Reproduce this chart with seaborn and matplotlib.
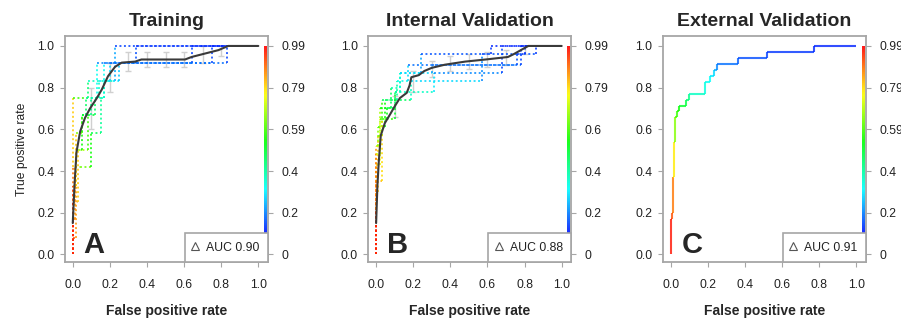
import numpy as np
import matplotlib
matplotlib.use("Agg")
import matplotlib.pyplot as plt
from matplotlib.collections import LineCollection
from matplotlib.colors import ListedColormap
from matplotlib.lines import Line2D
import seaborn as sns

# ---- chart data ----
titles = ["Training", "Internal Validation", "External Validation"]
panel_letters = ["A", "B", "C"]
auc_labels = ["AUC 0.90", "AUC 0.88", "AUC 0.91"]
axis_ticks = [0.0, 0.2, 0.4, 0.6, 0.8, 1.0]
cutoff_labels = [
    ["0", "0.2", "0.4", "0.59", "0.79", "0.99"],
    ["0", "0.2", "0.4", "0.6", "0.79", "0.99"],
    ["0", "0.2", "0.4", "0.59", "0.79", "0.99"],
]

# averaged ROC curves (black line)
train_mean_fpr = [0.0, 0.01, 0.02, 0.04, 0.066, 0.093, 0.13, 0.156, 0.19, 0.228, 0.264, 0.336, 0.37, 0.605, 0.64, 0.71, 0.785, 0.838, 1.0]
train_mean_tpr = [0.15, 0.34, 0.49, 0.59, 0.655, 0.70, 0.75, 0.79, 0.855, 0.90, 0.92, 0.925, 0.935, 0.935, 0.947, 0.963, 0.98, 1.0, 1.0]
int_mean_fpr = [0.0, 0.007, 0.014, 0.025, 0.047, 0.074, 0.10, 0.128, 0.165, 0.18, 0.19, 0.23, 0.26, 0.30, 0.37, 0.48, 0.59, 0.71, 0.74, 0.78, 0.82, 1.0]
int_mean_tpr = [0.15, 0.33, 0.44, 0.57, 0.63, 0.67, 0.71, 0.75, 0.775, 0.81, 0.85, 0.86, 0.88, 0.895, 0.91, 0.925, 0.935, 0.947, 0.96, 0.98, 1.0, 1.0]

# training folds: fpr, tpr, cutoff at each vertex
train_fold1_fpr = [0, 0, 0, 0, 0.08, 0.08, 0.23, 0.23, 1]
train_fold1_tpr = [0, 0.17, 0.42, 0.75, 0.75, 0.83, 0.83, 1, 1]
train_fold1_cut = [0.97, 0.88, 0.8, 0.55, 0.38, 0.3, 0.15, 0.05, 0.0]
train_fold2_fpr = [0, 0, 0.02, 0.02, 0.02, 0.05, 0.05, 0.1, 0.1, 0.13, 0.13, 0.34, 0.34, 1]
train_fold2_tpr = [0, 0.08, 0.08, 0.33, 0.5, 0.5, 0.67, 0.67, 0.75, 0.75, 0.92, 0.92, 1, 1]
train_fold2_cut = [0.97, 0.92, 0.85, 0.75, 0.6, 0.5, 0.42, 0.36, 0.3, 0.25, 0.12, 0.06, 0.03, 0.0]
train_fold3_fpr = [0, 0, 0.01, 0.01, 0.04, 0.1, 0.1, 0.15, 0.15, 0.17, 0.17, 0.64, 0.64, 1]
train_fold3_tpr = [0, 0.17, 0.17, 0.42, 0.42, 0.42, 0.58, 0.58, 0.75, 0.75, 0.92, 0.92, 1, 1]
train_fold3_cut = [0.97, 0.9, 0.85, 0.62, 0.6, 0.5, 0.42, 0.35, 0.3, 0.25, 0.1, 0.05, 0.02, 0.0]
train_fold4_fpr = [0, 0, 0.02, 0.02, 0.05, 0.05, 0.07, 0.07, 0.14, 0.14, 0.2, 0.2, 0.75, 0.75, 1]
train_fold4_tpr = [0, 0.33, 0.33, 0.58, 0.58, 0.67, 0.67, 0.75, 0.75, 0.83, 0.83, 0.92, 0.92, 1, 1]
train_fold4_cut = [0.95, 0.85, 0.8, 0.62, 0.55, 0.45, 0.4, 0.33, 0.3, 0.22, 0.2, 0.1, 0.05, 0.02, 0.0]
train_fold5_fpr = [0, 0, 0.03, 0.03, 0.08, 0.08, 0.12, 0.12, 0.17, 0.17, 0.25, 0.25, 0.83, 0.83, 1]
train_fold5_tpr = [0, 0.25, 0.25, 0.5, 0.5, 0.67, 0.67, 0.75, 0.75, 0.83, 0.83, 0.92, 0.92, 1, 1]
train_fold5_cut = [0.96, 0.86, 0.8, 0.65, 0.55, 0.45, 0.4, 0.33, 0.3, 0.22, 0.18, 0.1, 0.05, 0.02, 0.0]

# internal validation folds
int_fold1_fpr = [0, 0, 0, 0.01, 0.01, 0.03, 0.03, 0.19, 0.19, 0.57, 0.57, 0.62, 0.62, 1]
int_fold1_tpr = [0, 0.13, 0.3, 0.3, 0.57, 0.57, 0.74, 0.74, 0.83, 0.83, 0.96, 0.96, 1, 1]
int_fold1_cut = [0.97, 0.9, 0.85, 0.8, 0.62, 0.55, 0.4, 0.3, 0.2, 0.12, 0.05, 0.04, 0.02, 0.0]
int_fold2_fpr = [0, 0, 0, 0.02, 0.02, 0.06, 0.06, 0.1, 0.1, 0.31, 0.31, 0.68, 0.68, 1]
int_fold2_tpr = [0, 0.2, 0.43, 0.43, 0.65, 0.65, 0.7, 0.7, 0.78, 0.78, 0.87, 0.87, 1, 1]
int_fold2_cut = [0.96, 0.87, 0.78, 0.72, 0.55, 0.48, 0.42, 0.38, 0.3, 0.22, 0.12, 0.05, 0.02, 0.0]
int_fold3_fpr = [0, 0, 0, 0.01, 0.01, 0.05, 0.05, 0.11, 0.11, 0.17, 0.17, 0.78, 0.78, 1]
int_fold3_tpr = [0, 0.26, 0.52, 0.52, 0.61, 0.61, 0.74, 0.74, 0.83, 0.83, 0.91, 0.91, 1, 1]
int_fold3_cut = [0.95, 0.85, 0.68, 0.62, 0.55, 0.5, 0.4, 0.33, 0.25, 0.2, 0.1, 0.05, 0.02, 0.0]
int_fold4_fpr = [0, 0, 0, 0.03, 0.03, 0.1, 0.1, 0.13, 0.13, 0.24, 0.24, 0.86, 0.86, 1]
int_fold4_tpr = [0, 0.17, 0.35, 0.35, 0.65, 0.65, 0.78, 0.78, 0.87, 0.87, 0.96, 0.96, 1, 1]
int_fold4_cut = [0.97, 0.9, 0.82, 0.78, 0.55, 0.45, 0.35, 0.3, 0.22, 0.15, 0.07, 0.04, 0.02, 0.0]
int_fold5_fpr = [0, 0, 0, 0.02, 0.02, 0.08, 0.08, 0.13, 0.13, 0.3, 0.3, 0.76, 0.76, 0.8, 0.8, 1]
int_fold5_tpr = [0, 0.22, 0.48, 0.48, 0.7, 0.7, 0.8, 0.8, 0.87, 0.87, 0.91, 0.91, 0.96, 0.96, 1, 1]
int_fold5_cut = [0.96, 0.86, 0.7, 0.65, 0.48, 0.4, 0.32, 0.28, 0.2, 0.15, 0.1, 0.06, 0.04, 0.03, 0.02, 0.0]

# error bars on the averaged curves
err_fpr = [0.1, 0.2, 0.3, 0.4, 0.5, 0.6, 0.7, 0.8]
train_err_lo = [0.60, 0.78, 0.88, 0.90, 0.90, 0.90, 0.92, 0.95]
train_err_hi = [0.80, 0.92, 0.97, 0.97, 0.97, 0.97, 1.00, 1.00]
int_err_lo = [0.66, 0.78, 0.85, 0.88, 0.89, 0.90, 0.91, 0.96]
int_err_hi = [0.76, 0.88, 0.93, 0.95, 0.96, 0.97, 0.98, 1.00]

# external validation: single ROC curve
ext_fpr = [0, 0, 0.007, 0.007, 0.014, 0.014, 0.018, 0.018, 0.025, 0.025, 0.036, 0.036, 0.047, 0.047,
           0.08, 0.08, 0.1, 0.1, 0.185, 0.185, 0.21, 0.21, 0.235, 0.235, 0.248, 0.248, 0.364, 0.364,
           0.52, 0.52, 0.77, 0.77, 1.0]
ext_tpr = [0, 0.17, 0.17, 0.2, 0.2, 0.37, 0.37, 0.54, 0.54, 0.657, 0.657, 0.686, 0.686, 0.714,
           0.714, 0.743, 0.743, 0.771, 0.771, 0.829, 0.829, 0.857, 0.857, 0.886, 0.886, 0.914, 0.914, 0.943,
           0.943, 0.971, 0.971, 1.0, 1.0]
ext_cut = [0.98, 0.95, 0.92, 0.9, 0.88, 0.78, 0.76, 0.66, 0.62, 0.57, 0.55, 0.52, 0.5, 0.45,
           0.43, 0.38, 0.36, 0.3, 0.27, 0.25, 0.24, 0.22, 0.2, 0.16, 0.12, 0.1, 0.08, 0.06,
           0.05, 0.04, 0.03, 0.02, 0.0]

train_folds = [(train_fold1_fpr, train_fold1_tpr, train_fold1_cut),
               (train_fold2_fpr, train_fold2_tpr, train_fold2_cut),
               (train_fold3_fpr, train_fold3_tpr, train_fold3_cut),
               (train_fold4_fpr, train_fold4_tpr, train_fold4_cut),
               (train_fold5_fpr, train_fold5_tpr, train_fold5_cut)]
int_folds = [(int_fold1_fpr, int_fold1_tpr, int_fold1_cut),
             (int_fold2_fpr, int_fold2_tpr, int_fold2_cut),
             (int_fold3_fpr, int_fold3_tpr, int_fold3_cut),
             (int_fold4_fpr, int_fold4_tpr, int_fold4_cut),
             (int_fold5_fpr, int_fold5_tpr, int_fold5_cut)]

# ---- style ----
sns.set_style("white")
plt.rcParams['font.family'] = ['Liberation Sans', 'DejaVu Sans']

# R style rainbow: red (high cutoff) -> blue (low cutoff)
rainbow = ListedColormap(plt.cm.hsv(np.linspace(0.667, 0.0, 256)))
GRAY = "#a6a6a6"
TXT = "#222222"


def colored_curve(ax, fpr, tpr, cut, dotted):
    pts = np.column_stack([fpr, tpr])
    segs = np.stack([pts[:-1], pts[1:]], axis=1)
    cols = rainbow(np.clip(cut[:-1], 0, 1))
    ls = (0, (1.0, 1.3)) if dotted else "solid"
    lc = LineCollection(segs, colors=cols, linewidths=1.4 if dotted else 1.5,
                        linestyles=ls, alpha=0.8, zorder=2)
    ax.add_collection(lc)


fig = plt.figure(figsize=(9.01, 3.2), dpi=100)
lefts = [0.0721, 0.4088, 0.7358]

for i in range(3):
    ax = fig.add_axes([lefts[i], 0.181, 0.2253, 0.706])

    if i < 2:
        folds = train_folds if i == 0 else int_folds
        for f, t, c in folds:
            colored_curve(ax, f, t, c, dotted=True)
        lo = train_err_lo if i == 0 else int_err_lo
        hi = train_err_hi if i == 0 else int_err_hi
        mid = [(a + b) / 2 for a, b in zip(lo, hi)]
        half = [(b - a) / 2 for a, b in zip(lo, hi)]
        ax.errorbar(err_fpr, mid, yerr=half, fmt="none", ecolor="#d0d0d0",
                    elinewidth=1.0, capsize=2.5, zorder=1)
        mf = train_mean_fpr if i == 0 else int_mean_fpr
        mt = train_mean_tpr if i == 0 else int_mean_tpr
        sns.lineplot(x=mf, y=mt, sort=False, estimator=None, color="#3a3a3a",
                     lw=1.5, ax=ax, zorder=3)
    else:
        colored_curve(ax, ext_fpr, ext_tpr, ext_cut, dotted=False)

    # colour key along right edge
    ax.imshow(np.linspace(0, 1, 256).reshape(-1, 1), cmap=rainbow, origin="lower",
              extent=[1.030, 1.042, 0.1, 1.0], aspect="auto", alpha=0.9, zorder=2)

    ax.set_xlim(-0.042, 1.052)
    ax.set_ylim(-0.037, 1.047)
    ax.set_xticks(axis_ticks)
    ax.set_yticks(axis_ticks)
    ax.set_xticklabels([f"{v:.1f}" for v in axis_ticks])
    ax.set_yticklabels([f"{v:.1f}" for v in axis_ticks])
    ax.tick_params(axis="x", direction="out", length=3.5, width=0.8, color=GRAY,
                   pad=9, labelsize=8.8, labelcolor=TXT, bottom=True)
    ax.tick_params(axis="y", direction="out", length=3.5, width=0.8, color=GRAY,
                   pad=4, labelsize=8.8, labelcolor=TXT, left=True)
    for sp in ax.spines.values():
        sp.set_color(GRAY)
        sp.set_linewidth(1.3)

    ax2 = ax.twinx()
    ax2.set_ylim(ax.get_ylim())
    ax2.set_yticks(axis_ticks)
    ax2.set_yticklabels(cutoff_labels[i])
    ax2.tick_params(axis="y", direction="out", length=3.5, width=0.8, color=GRAY,
                    pad=6, labelsize=8.8, labelcolor=TXT, right=True)
    for sp in ax2.spines.values():
        sp.set_visible(False)

    ax.set_title(titles[i], fontsize=14, fontweight="bold", pad=7)
    ax.set_xlabel("False positive rate", fontsize=10, fontweight="bold", labelpad=9)
    if i == 0:
        ax.set_ylabel("True positive rate", fontsize=8.7, labelpad=7, color=TXT)

    ax.text(0.115, 0.045, panel_letters[i], fontsize=21, fontweight="bold",
            ha="center", va="center", zorder=4)

    handle = Line2D([], [], marker="^", ls="none", mfc="none", mec="#555555", ms=5.5, mew=0.8)
    leg = ax.legend([handle], [auc_labels[i]], loc="lower right", borderaxespad=0,
                    frameon=True, fancybox=False, edgecolor=GRAY, fontsize=8.8,
                    handlelength=0.3, handletextpad=0.75, borderpad=0.7, framealpha=1)
    for t in leg.get_texts():
        t.set_color(TXT)
    leg.get_frame().set_linewidth(1.2)
    leg.set_zorder(5)

fig.savefig("out.png", dpi=100)
